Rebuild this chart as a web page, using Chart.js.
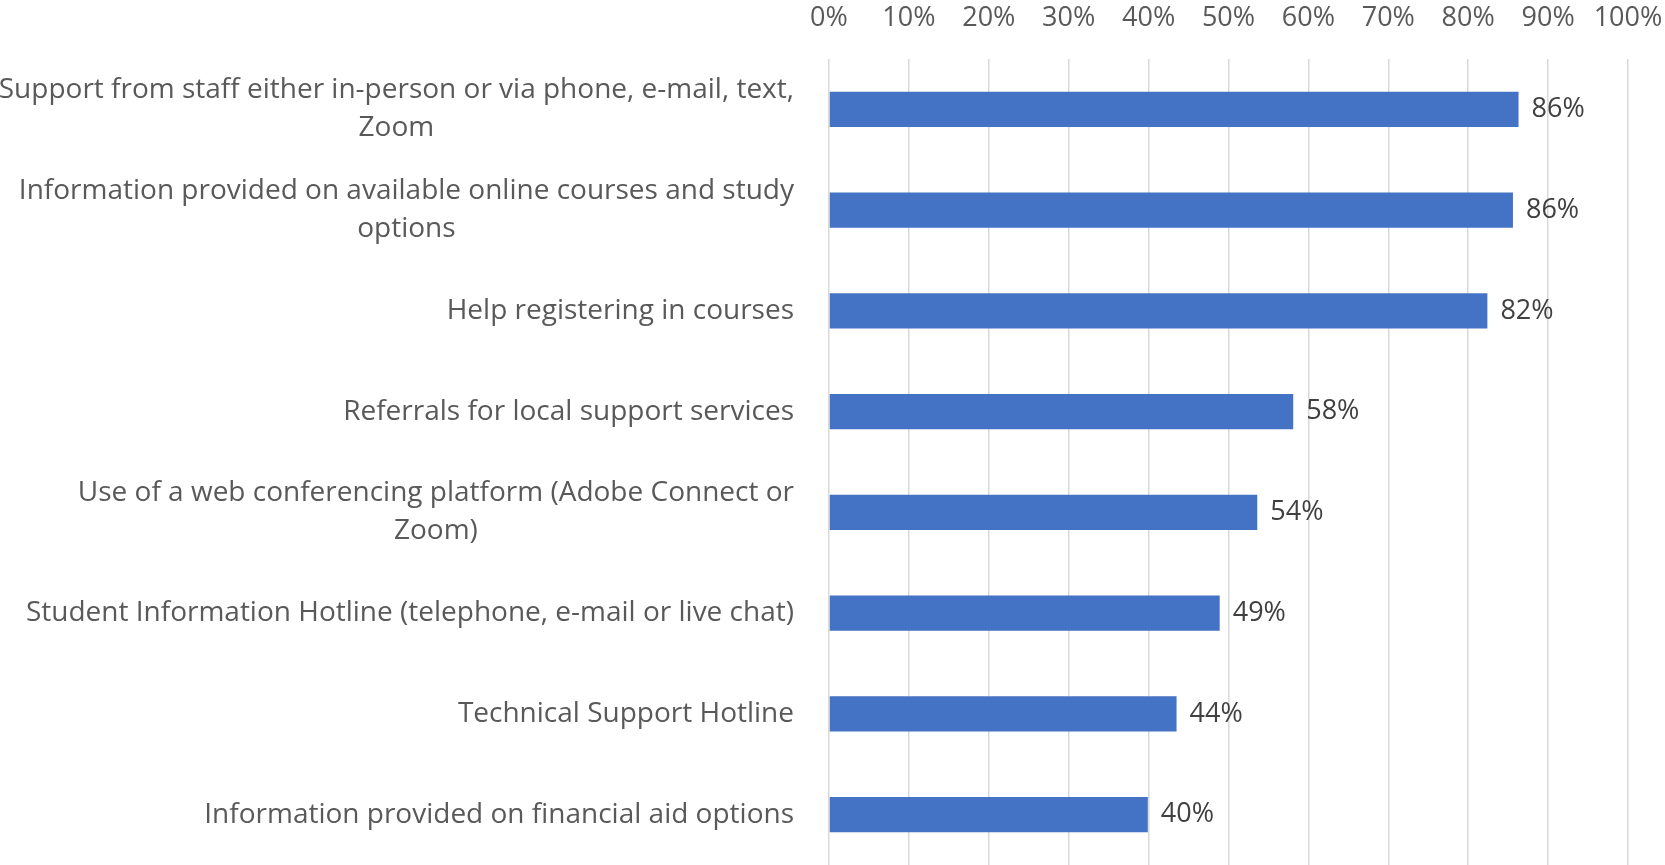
<!DOCTYPE html>
<html>
<head>
<meta charset="utf-8">
<script src="https://cdn.jsdelivr.net/npm/chart.js@4.4.1/dist/chart.umd.min.js"></script>
<style>
  html, body { margin: 0; padding: 0; background: #fff; }
  .chart-box { position: relative; width: 1665px; height: 865px; }
</style>
</head>
<body>
<div class="chart-box"><canvas id="chart-services"></canvas></div>
<script>
const categories = [
  ['Support from staff either in-person or via phone, e-mail, text,', 'Zoom'],
  ['Information provided on available online courses and study', 'options'],
  ['Help registering in courses'],
  ['Referrals for local support services'],
  ['Use of a web conferencing platform (Adobe Connect or', 'Zoom)'],
  ['Student Information Hotline (telephone, e-mail or live chat)'],
  ['Technical Support Hotline'],
  ['Information provided on financial aid options'],
];
const shares = [86.3, 85.6, 82.4, 58.1, 53.6, 48.9, 43.5, 39.9];
const pctLabels = ['86%', '86%', '82%', '58%', '54%', '49%', '44%', '40%'];
const xTicks = [0, 10, 20, 30, 40, 50, 60, 70, 80, 90, 100];

const FONT = '"Open Sans", "Noto Sans", sans-serif';

// category names: right-aligned block, lines centred within the block
const categoryLabels = {
  id: 'categoryLabels',
  afterDraw(chart) {
    const { ctx, scales } = chart;
    const right = scales.x.left - 35;
    const lineH = 38;
    ctx.save();
    ctx.font = '28px ' + FONT;
    ctx.fillStyle = '#595959';
    ctx.textAlign = 'center';
    ctx.textBaseline = 'middle';
    chart.data.labels.forEach((lines, i) => {
      const w = Math.max(...lines.map((t) => ctx.measureText(t).width));
      const cx = right - w / 2;
      const y0 = scales.y.getPixelForValue(i) - ((lines.length - 1) * lineH) / 2;
      lines.forEach((t, k) => ctx.fillText(t, cx, y0 + k * lineH));
    });
    ctx.restore();
  },
};

// value labels at the end of each bar
const valueLabels = {
  id: 'valueLabels',
  afterDatasetsDraw(chart) {
    const { ctx } = chart;
    const meta = chart.getDatasetMeta(0);
    ctx.save();
    ctx.font = '27px ' + FONT;
    ctx.fillStyle = '#404040';
    ctx.textAlign = 'left';
    ctx.textBaseline = 'middle';
    meta.data.forEach((bar, i) => ctx.fillText(pctLabels[i], bar.x + 13, bar.y));
    ctx.restore();
  },
};

new Chart(document.getElementById('chart-services'), {
  type: 'bar',
  data: {
    labels: categories,
    datasets: [
      {
        data: shares,
        backgroundColor: '#4472C4',
        categoryPercentage: 1,
        barPercentage: 0.35,
      },
    ],
  },
  options: {
    indexAxis: 'y',
    responsive: true,
    maintainAspectRatio: false,
    animation: false,
    layout: { padding: { left: 829, right: 37, top: 0, bottom: 0 } },
    plugins: { legend: { display: false }, tooltip: { enabled: false } },
    scales: {
      x: {
        position: 'top',
        min: 0,
        max: 100,
        afterBuildTicks: (scale) => { scale.ticks = xTicks.map((v) => ({ value: v })); },
        afterFit: (scale) => {
          scale.height = 59;
          scale.paddingLeft = 0;
          scale.paddingRight = 0;
        },
        border: { display: false },
        grid: { color: '#d9d9d9', lineWidth: 1.5, drawTicks: false },
        ticks: {
          padding: 24,
          color: '#595959',
          font: { family: FONT, size: 27 },
          callback: (v) => v + '%',
        },
      },
      y: { display: false },
    },
  },
  plugins: [categoryLabels, valueLabels],
});
</script>
</body>
</html>
